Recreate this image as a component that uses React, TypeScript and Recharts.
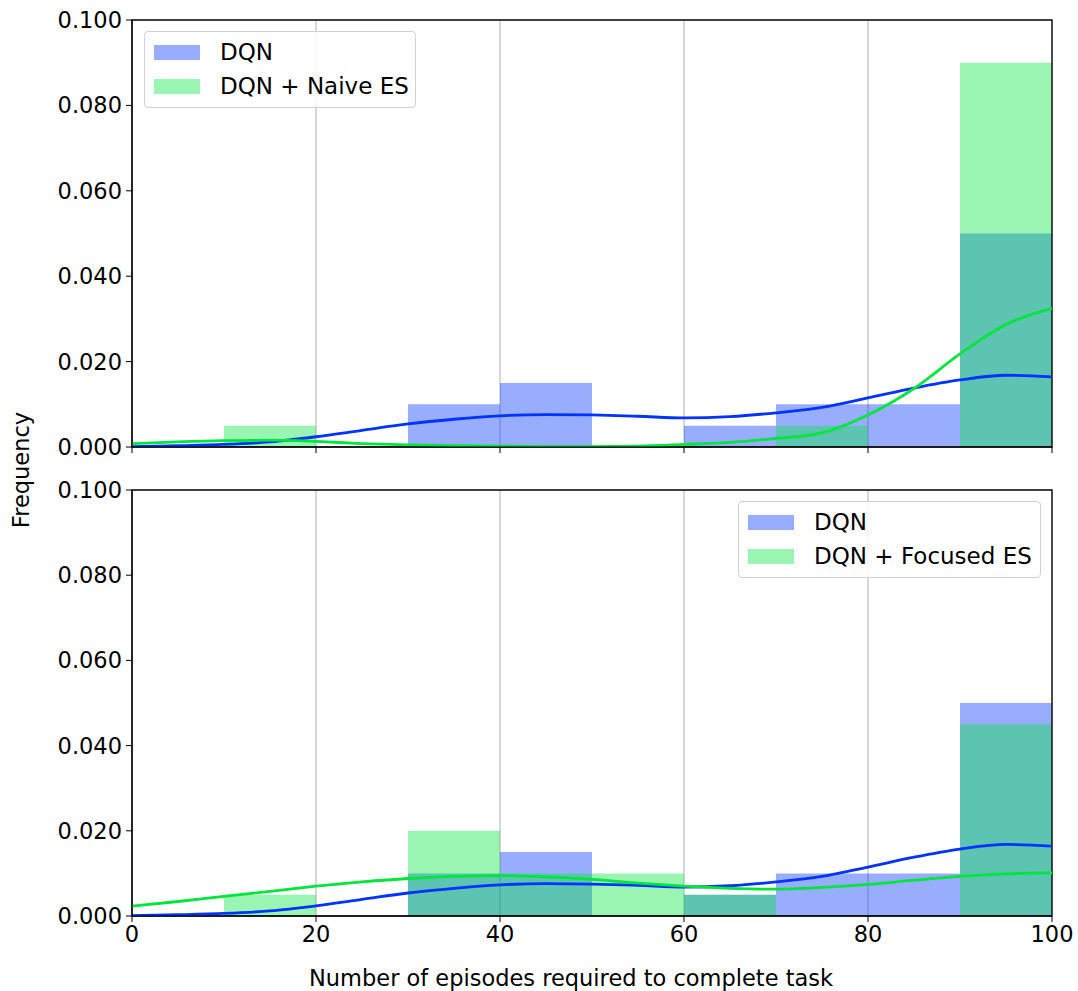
import {
  ComposedChart,
  Area,
  Line,
  XAxis,
  YAxis,
  CartesianGrid,
  Legend,
  ReferenceArea,
} from 'recharts';

// histogram bins (width 10) and KDE sample points
const binStarts = [0, 10, 20, 30, 40, 50, 60, 70, 80, 90];
const dqnHist = [0, 0, 0, 0.01, 0.015, 0, 0.005, 0.01, 0.01, 0.05];
const naiveHist = [0, 0.005, 0, 0, 0, 0, 0, 0.005, 0, 0.09];
const focusedHist = [0, 0.005, 0, 0.02, 0.01, 0.01, 0.005, 0, 0, 0.045];

const kdeX = [0, 5, 10, 15, 20, 25, 30, 35, 40, 45, 50, 55, 60, 65, 70, 75, 80, 85, 90, 95, 100];
const dqnKde = [0.0001, 0.0003, 0.0006, 0.0012, 0.0024, 0.0039, 0.0054, 0.0065, 0.0073, 0.0076, 0.0075, 0.0072, 0.0068, 0.0071, 0.008, 0.0093, 0.0115, 0.0138, 0.0157, 0.0168, 0.0164];
const naiveKde = [0.0008, 0.0012, 0.0015, 0.0016, 0.0013, 0.0008, 0.0005, 0.0003, 0.0002, 0.0001, 0.0001, 0.0002, 0.0006, 0.0011, 0.002, 0.0033, 0.0075, 0.0137, 0.0218, 0.0287, 0.0325];
const focusedKde = [0.0023, 0.0034, 0.0046, 0.0058, 0.007, 0.008, 0.0088, 0.0093, 0.0095, 0.0092, 0.0086, 0.0077, 0.007, 0.0065, 0.0063, 0.0067, 0.0074, 0.0084, 0.0093, 0.0099, 0.0101];

const xTicks = [0, 20, 40, 60, 80, 100];
const yTicks = [0, 0.02, 0.04, 0.06, 0.08, 0.1];

const BLUE = '#0033ff';
const GREEN = '#00e63c';
const FONT = '"DejaVu Sans", sans-serif';

function binValue(hist: number[], x: number) {
  const i = Math.min(Math.floor(x / 10), binStarts.length - 1);
  return hist[i];
}

function buildRows(otherHist: number[], otherKde: number[]) {
  return kdeX.map((x, i) => ({
    x,
    dqnHist: binValue(dqnHist, x),
    otherHist: binValue(otherHist, x),
    dqnKde: dqnKde[i],
    otherKde: otherKde[i],
  }));
}

const topRows = buildRows(naiveHist, naiveKde);
const bottomRows = buildRows(focusedHist, focusedKde);

function LegendBox({ label }: { label: string }) {
  const items = [
    { name: 'DQN', color: BLUE },
    { name: label, color: GREEN },
  ];
  return (
    <div
      style={{
        border: '1px solid #d0d0d0',
        borderRadius: 4,
        background: 'rgba(255,255,255,0.8)',
        padding: '3px 0 4px 9px',
        boxSizing: 'border-box',
        fontFamily: FONT,
        fontSize: 23,
      }}
    >
      {items.map((it) => (
        <div key={it.name} style={{ display: 'flex', alignItems: 'center', height: 34 }}>
          <span style={{ width: 46, height: 15, background: it.color, opacity: 0.4, marginRight: 20 }} />
          <span style={{ color: '#000' }}>{it.name}</span>
        </div>
      ))}
    </div>
  );
}

function Panel({
  rows,
  height,
  xAxisHeight,
  showXLabels,
  legendLabel,
  legendPos,
}: {
  rows: ReturnType<typeof buildRows>;
  height: number;
  xAxisHeight: number;
  showXLabels: boolean;
  legendLabel: string;
  legendPos: { left: number; top: number; width: number };
}) {
  return (
    <ComposedChart width={1078} height={height} data={rows} margin={{ top: 20, right: 26, left: 0, bottom: 0 }}>
      <CartesianGrid horizontal={false} stroke="#b0b0b0" strokeWidth={1} />
      <XAxis
        dataKey="x"
        type="number"
        domain={[0, 100]}
        ticks={xTicks}
        height={xAxisHeight}
        tickSize={6}
        tickMargin={4}
        tick={{ fontSize: 22.5, fill: '#000', fontFamily: FONT }}
        tickFormatter={(v) => (showXLabels ? String(v) : '')}
        axisLine={{ stroke: '#000' }}
        tickLine={{ stroke: '#000' }}
        allowDataOverflow
      />
      <YAxis
        type="number"
        domain={[0, 0.1]}
        ticks={yTicks}
        width={132}
        tickSize={6}
        tickMargin={4}
        tick={{ fontSize: 22.5, fill: '#000', fontFamily: FONT }}
        tickFormatter={(v) => Number(v).toFixed(3)}
        axisLine={{ stroke: '#000' }}
        tickLine={{ stroke: '#000' }}
        allowDataOverflow
      />
      <Area type="stepAfter" dataKey="dqnHist" fill={BLUE} fillOpacity={0.4} stroke="none" isAnimationActive={false} />
      <Area type="stepAfter" dataKey="otherHist" fill={GREEN} fillOpacity={0.4} stroke="none" isAnimationActive={false} />
      <Line type="monotone" dataKey="dqnKde" stroke={BLUE} strokeWidth={2.8} dot={false} isAnimationActive={false} />
      <Line type="monotone" dataKey="otherKde" stroke={GREEN} strokeWidth={2.8} dot={false} isAnimationActive={false} />
      <ReferenceArea x1={0} x2={100} y1={0} y2={0.1} fill="none" stroke="#000" strokeWidth={1.3} ifOverflow="visible" />
      <Legend
        layout="vertical"
        align="center"
        verticalAlign="middle"
        wrapperStyle={{ left: legendPos.left, top: legendPos.top, width: legendPos.width }}
        content={() => <LegendBox label={legendLabel} />}
      />
    </ComposedChart>
  );
}

export default function App() {
  return (
    <div style={{ position: 'absolute', left: 0, top: 0, width: 1078, height: 991, background: '#fff', fontFamily: FONT }}>
      <div style={{ position: 'absolute', left: 0, top: 0 }}>
        <Panel
          rows={topRows}
          height={470}
          xAxisHeight={23}
          showXLabels={false}
          legendLabel="DQN + Naive ES"
          legendPos={{ left: 144, top: 31, width: 272 }}
        />
      </div>
      <div style={{ position: 'absolute', left: 0, top: 470 }}>
        <Panel
          rows={bottomRows}
          height={521}
          xAxisHeight={75}
          showXLabels
          legendLabel="DQN + Focused ES"
          legendPos={{ left: 738, top: 31, width: 303 }}
        />
      </div>
      <div
        style={{
          position: 'absolute',
          left: 21,
          top: 470,
          transform: 'translate(-50%, -50%) rotate(-90deg)',
          fontSize: 22.5,
          whiteSpace: 'nowrap',
        }}
      >
        Frequency
      </div>
      <div
        style={{
          position: 'absolute',
          left: 571,
          top: 978,
          transform: 'translate(-50%, -50%)',
          fontSize: 22.5,
          whiteSpace: 'nowrap',
        }}
      >
        Number of episodes required to complete task
      </div>
    </div>
  );
}
